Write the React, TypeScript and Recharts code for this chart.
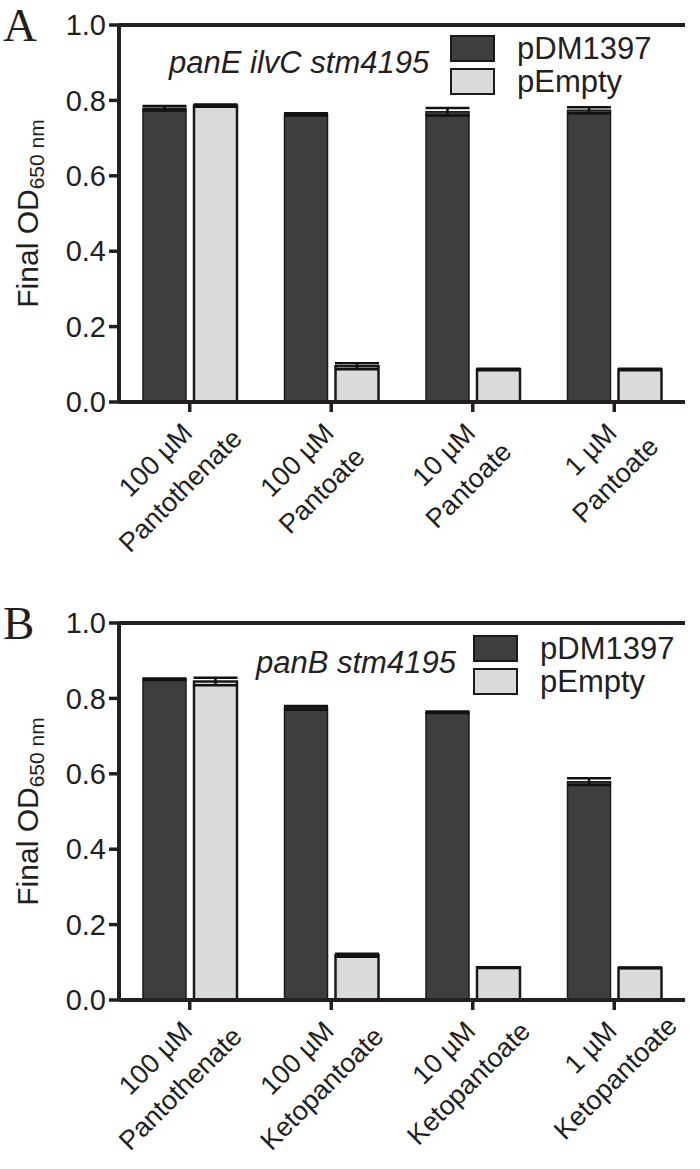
import React from "react";
import { BarChart, Bar, XAxis, YAxis, ErrorBar, ReferenceLine } from "recharts";

// panel A : panE ilvC stm4195
const CATEGORIES_A = ["100 µM|Pantothenate", "100 µM|Pantoate", "10 µM|Pantoate", "1 µM|Pantoate"];
const PDM_A = [0.779, 0.763, 0.770, 0.774];
const PDM_A_ERR = [0.006, 0.003, 0.010, 0.008];
const EMPTY_A = [0.786, 0.095, 0.086, 0.086];
const EMPTY_A_ERR = [0.003, 0.008, 0.002, 0.002];

// panel B : panB stm4195
const CATEGORIES_B = ["100 µM|Pantothenate", "100 µM|Ketopantoate", "10 µM|Ketopantoate", "1 µM|Ketopantoate"];
const PDM_B = [0.851, 0.775, 0.763, 0.579];
const PDM_B_ERR = [0.002, 0.005, 0.002, 0.009];
const EMPTY_B = [0.845, 0.119, 0.086, 0.085];
const EMPTY_B_ERR = [0.010, 0.004, 0.001, 0.001];

const Y_TICKS = [0, 0.2, 0.4, 0.6, 0.8, 1.0];
const SERIES = [
  { key: "pdm", label: "pDM1397", fill: "#3e3e3e" },
  { key: "empty", label: "pEmpty", fill: "#d9dadc" },
];

const INK = "#231f20";
const SANS = '"Liberation Sans", Arial, sans-serif';
const X_FONT = 27;

// rough Arial advance widths (em) for the first label line
const CHAR_W: Record<string, number> = { " ": 0.278, "µ": 0.576, M: 0.833 };
function lineWidth(s: string) {
  let w = 0;
  for (const ch of s) w += CHAR_W[ch] ?? 0.556;
  return w * X_FONT;
}

function CategoryTick(props: any) {
  const { x, y, payload } = props;
  const [l1, l2] = String(payload.value).split("|");
  const cx = -20 - lineWidth(l1) / 2;
  return (
    <text
      transform={`translate(${x},${y - 10}) rotate(-45)`}
      textAnchor="middle"
      fontSize={X_FONT}
      fill={INK}
      fontFamily={SANS}
    >
      <tspan x={cx} y={26}>{l1}</tspan>
      <tspan x={cx - 4} y={65}>{l2}</tspan>
    </text>
  );
}

function YLabel(props: any) {
  const vb = props.viewBox || { x: 0, y: 25, width: 119, height: 377 };
  const cy = vb.y + vb.height / 2;
  return (
    <text
      transform={`translate(38,${cy}) rotate(-90)`}
      textAnchor="middle"
      fontSize={30}
      fill={INK}
      fontFamily={SANS}
    >
      Final OD
      <tspan fontSize={21} dy={6}>650 nm</tspan>
    </text>
  );
}

type PanelProps = {
  letter: string;
  title: string;
  titleLeft: number;
  titleTop: number;
  legendLeft: number;
  legendTop: number;
  categories: string[];
  pdm: number[];
  pdmErr: number[];
  empty: number[];
  emptyErr: number[];
  height: number;
  xHeight: number;
  bottom: number;
};

function Panel(p: PanelProps) {
  const data = p.categories.map((name, i) => ({
    name,
    pdm: p.pdm[i],
    pdmErr: p.pdmErr[i],
    empty: p.empty[i],
    emptyErr: p.emptyErr[i],
  }));

  return (
    <div style={{ position: "relative", width: 700, height: p.height }}>
      <BarChart
        width={700}
        height={p.height}
        data={data}
        margin={{ top: 25, right: 15, left: 0, bottom: p.bottom }}
        barSize={43}
        barGap={8}
      >
        <XAxis
          dataKey="name"
          height={p.xHeight}
          interval={0}
          tick={(tp: any) => <CategoryTick {...tp} />}
          tickSize={10}
          tickMargin={0}
          axisLine={{ stroke: INK, strokeWidth: 4 }}
          tickLine={{ stroke: INK, strokeWidth: 3.5 }}
        />
        <YAxis
          width={119}
          domain={[0, 1]}
          ticks={Y_TICKS}
          tickFormatter={(v: number) => v.toFixed(1)}
          tick={{ fontSize: 29, fill: INK, fontFamily: SANS }}
          tickSize={10}
          tickMargin={3}
          axisLine={{ stroke: INK, strokeWidth: 4 }}
          tickLine={{ stroke: INK, strokeWidth: 3.5 }}
          label={<YLabel />}
        />
        <YAxis
          yAxisId="right"
          orientation="right"
          width={0}
          domain={[0, 1]}
          tick={false}
          tickLine={false}
          axisLine={{ stroke: INK, strokeWidth: 3.5 }}
        />
        <ReferenceLine y={1} stroke={INK} strokeWidth={4} ifOverflow="visible" />
        <Bar dataKey="pdm" fill={SERIES[0].fill} stroke="#1a1a1a" strokeWidth={1.5} isAnimationActive={false}>
          <ErrorBar dataKey="pdmErr" width={22} stroke="#111" strokeWidth={2.5} isAnimationActive={false} />
        </Bar>
        <Bar dataKey="empty" fill={SERIES[1].fill} stroke="#1a1a1a" strokeWidth={2.5} isAnimationActive={false}>
          <ErrorBar dataKey="emptyErr" width={22} stroke="#111" strokeWidth={2.5} isAnimationActive={false} />
        </Bar>
      </BarChart>

      <div
        style={{
          position: "absolute",
          left: 3,
          top: 2,
          fontFamily: '"Liberation Serif", "Times New Roman", serif',
          fontSize: 47,
          lineHeight: "46px",
          color: INK,
        }}
      >
        {p.letter}
      </div>

      <div
        style={{
          position: "absolute",
          left: p.titleLeft,
          top: p.titleTop,
          fontFamily: SANS,
          fontStyle: "italic",
          fontSize: 31,
          lineHeight: "30px",
          color: INK,
          whiteSpace: "nowrap",
        }}
      >
        {p.title}
      </div>

      <div style={{ position: "absolute", left: p.legendLeft, top: p.legendTop }}>
        {SERIES.map((s) => (
          <div key={s.key} style={{ display: "flex", alignItems: "center", height: 27, marginBottom: 6 }}>
            <span
              style={{
                width: 41,
                height: 23,
                background: s.fill,
                border: "2px solid #1a1a1a",
                display: "inline-block",
              }}
            />
            <span
              style={{
                marginLeft: 22,
                fontFamily: SANS,
                fontSize: 31,
                lineHeight: "27px",
                color: INK,
                whiteSpace: "nowrap",
              }}
            >
              {s.label}
            </span>
          </div>
        ))}
      </div>
    </div>
  );
}

export default function App() {
  return (
    <div style={{ position: "absolute", left: 0, top: 0, width: 700, height: 1169, background: "#fff" }}>
      <Panel
        letter="A"
        title="panE ilvC stm4195"
        titleLeft={169}
        titleTop={48}
        legendLeft={450}
        legendTop={35}
        categories={CATEGORIES_A}
        pdm={PDM_A}
        pdmErr={PDM_A_ERR}
        empty={EMPTY_A}
        emptyErr={EMPTY_A_ERR}
        height={598}
        xHeight={170}
        bottom={26}
      />
      <Panel
        letter="B"
        title="panB stm4195"
        titleLeft={256}
        titleTop={50}
        legendLeft={473}
        legendTop={37}
        categories={CATEGORIES_B}
        pdm={PDM_B}
        pdmErr={PDM_B_ERR}
        empty={EMPTY_B}
        emptyErr={EMPTY_B_ERR}
        height={571}
        xHeight={150}
        bottom={19}
      />
    </div>
  );
}
